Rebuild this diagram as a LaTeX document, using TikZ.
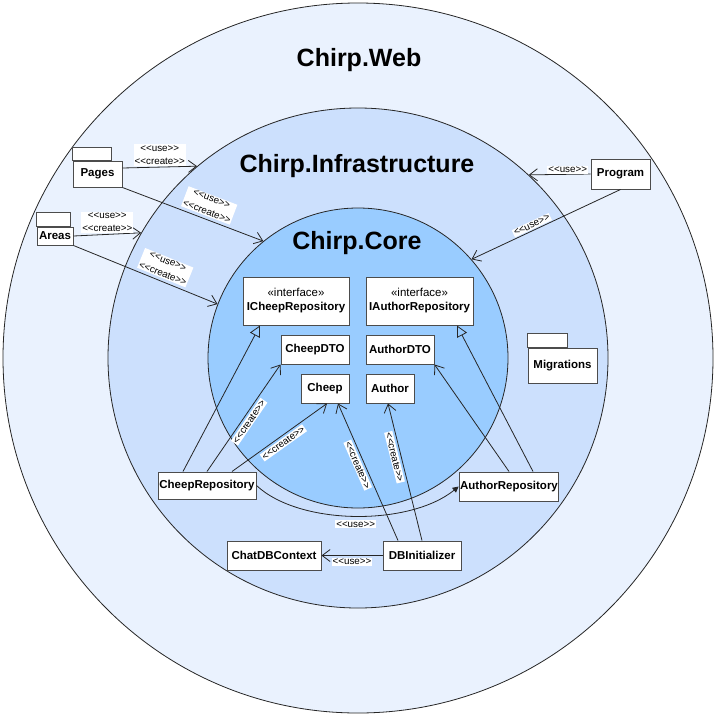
\documentclass[tikz,border=0pt]{standalone}
\usepackage{fontspec}
\setmainfont{Liberation Sans}
\usetikzlibrary{arrows.meta}

\definecolor{webfill}{HTML}{EAF2FE}
\definecolor{infrafill}{HTML}{CCE0FD}
\definecolor{corefill}{HTML}{99CCFF}

\newcommand{\umlst}[1]{{<}{<}#1{>}{>}}

\begin{document}
\begin{tikzpicture}[x=1pt,y=-1pt,
    ring/.style={shape=circle,draw=black!85,line width=0.8pt,inner sep=0pt},
    ringtitle/.style={font=\bfseries\fontsize{25}{30}\selectfont},
    cls/.style={draw=black!70,line width=1pt,fill=white,inner sep=1pt,align=center,font=\bfseries\fontsize{11.5}{14}\selectfont},
    pkgtab/.style={draw=black!70,line width=1pt,fill=white},
    dep/.style={-{Straight Barb[length=8pt,width=12pt]},draw=black!85,line width=0.8pt},
    realizes/.style={-{Triangle[open,length=11pt,width=11pt]},draw=black!85,line width=0.8pt},
    usecurve/.style={-{Triangle[length=6pt,width=6pt]},draw=black!85,line width=0.8pt},
    stereo/.style={font=\fontsize{9.8}{13.5}\selectfont,fill=white,inner sep=1pt,align=center}]

    \useasboundingbox (0,0) rectangle (715,715);

    % Layers
    \node[ring,fill=webfill,minimum size=710pt] (web) at (358,358) {};
    \node[ring,fill=infrafill,minimum size=500pt] (infra) at (358,358) {};
    \node[ring,fill=corefill,minimum size=300pt] (core) at (358,358) {};

    \node[ringtitle] (webtitle) at (359,60.5) {Chirp.Web};
    \node[ringtitle] (infratitle) at (357,166) {Chirp.Infrastructure};
    \node[ringtitle] (coretitle) at (357,243.5) {Chirp.Core};

    % Web packages
    \node[cls,minimum width=49pt,minimum height=26pt] (pages) at (97.5,174) {Pages};
    \draw[pkgtab] (pages.north west) rectangle ++(39,-13);
    \node[cls,minimum width=36pt,minimum height=18pt] (areas) at (55,236) {Areas};
    \draw[pkgtab] (areas.north west) rectangle ++(34,-14);
    \node[cls,minimum width=59pt,minimum height=30pt] (program) at (620.5,174) {Program};

    % Core classes
    \node[cls,minimum width=106pt,minimum height=48pt] (icheeprepo) at (296,301) {{\mdseries «interface»}\\ICheepRepository};
    \node[cls,minimum width=107pt,minimum height=48pt] (iauthorrepo) at (419.5,301) {{\mdseries «interface»}\\IAuthorRepository};
    \node[cls,minimum width=68pt,minimum height=29pt] (cheepdto) at (315,349.5) {CheepDTO};
    \node[cls,minimum width=68pt,minimum height=29pt] (authordto) at (400,349.5) {AuthorDTO};
    \node[cls,minimum width=48pt,minimum height=29pt] (cheep) at (325,388.5) {Cheep};
    \node[cls,minimum width=48pt,minimum height=29pt] (author) at (390,388.5) {Author};

    % Infrastructure classes
    \node[cls,minimum width=98pt,minimum height=27pt] (cheeprepo) at (207,485.5) {CheepRepository};
    \node[cls,minimum width=98pt,minimum height=29pt] (authorrepo) at (509,486.5) {AuthorRepository};
    \node[cls,minimum width=94pt,minimum height=29pt] (chatdb) at (274,555.5) {ChatDBContext};
    \node[cls,minimum width=78pt,minimum height=29pt] (dbinit) at (422,555.5) {DBInitializer};
    \node[cls,minimum width=69pt,minimum height=35pt] (migrations) at (562.5,365.5) {Migrations};
    \draw[pkgtab] (migrations.north west) rectangle ++(40,-14);

    % Web dependencies
    \path ([yshift=6pt]pages.east) edge[dep] node[stereo,above=1pt] {\umlst{use}\\\umlst{create}} (infra.130.5);
    \path (pages.south east) edge[dep] node[stereo,sloped,pos=0.58,above=3pt] {\umlst{use}\\\umlst{create}} (core.129.6);
    \path (areas.east) edge[dep] node[stereo,above=1pt] {\umlst{use}\\\umlst{create}} (infra.150.8);
    \path (areas.south east) edge[dep] node[stereo,sloped,pos=0.6,above=3pt] {\umlst{use}\\\umlst{create}} (core.159);
    \path (program.west) edge[dep] node[stereo,pos=0.37,above=0pt] {\umlst{use}} (infra.47.4);
    \path (program.south) edge[dep] node[stereo,sloped,pos=0.58,above=1pt] {\umlst{use}} (core.41);

    % Repositories
    \path ([xshift=-24pt]cheeprepo.north) edge[realizes] ([xshift=-36pt]icheeprepo.south);
    \path (cheeprepo.north) edge[dep] node[stereo,sloped,below=2pt] {\umlst{create}} (cheepdto.south west);
    \path ([xshift=25pt]cheeprepo.north) edge[dep] node[stereo,sloped,below=2pt] {\umlst{create}} ([xshift=2pt]cheep.south);
    \path ([xshift=24pt]authorrepo.north) edge[realizes] ([xshift=37.5pt]iauthorrepo.south);
    \path (authorrepo.north) edge[dep] (authordto.south east);
    \draw[usecurve] (cheeprepo.east) .. controls (300,526) and (410,526) .. (authorrepo.west)
        node[stereo,pos=0.5,below=4pt] {\umlst{use}};

    % DB setup
    \path ([xshift=-24pt]dbinit.north) edge[dep] node[stereo,sloped,pos=0.57,below=2pt] {\umlst{create}} ([xshift=13pt]cheep.south);
    \path (dbinit.north) edge[dep] node[stereo,sloped,pos=0.62,below=2pt] {\umlst{create}} ([xshift=-2pt]author.south);
    \path (dbinit.west) edge[dep] node[stereo,below=2pt] {\umlst{use}} (chatdb.east);

\end{tikzpicture}
\end{document}
